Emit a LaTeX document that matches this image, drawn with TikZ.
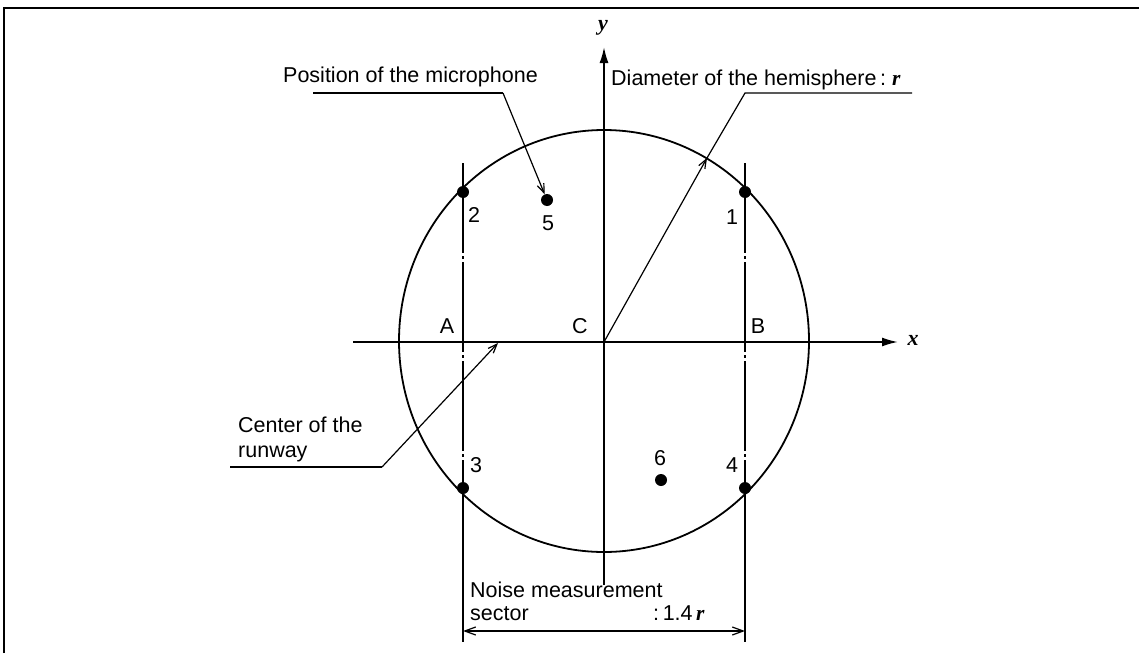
\documentclass[tikz,border=0pt]{standalone}
\usepackage{fontspec}
\setmainfont{Liberation Sans}
\newfontfamily\serifbi{Liberation Serif}
\usetikzlibrary{arrows.meta}
\begin{document}
\begin{tikzpicture}[x=1pt,y=-1pt,
  lbl/.style={inner sep=0pt, font=\fontsize{21.5}{25}\selectfont},
  txt/.style={inner sep=0pt, anchor=base west, font=\fontsize{21.5}{25}\selectfont},
  axlbl/.style={inner sep=0pt, font=\fontsize{22}{25}\serifbi\bfseries\itshape},
  axisline/.style={line width=1.8pt, -{Latex[length=16pt,width=9pt]}},
  leader/.style={line width=1.2pt},
  leadarrow/.style={line width=1.2pt, -{Straight Barb[length=9pt,width=7pt]}},
  dimarrow/.style={line width=1.2pt, {Straight Barb[length=11pt,width=8pt]}-{Straight Barb[length=11pt,width=8pt]}},
  chain/.style={line width=1.5pt, dash pattern=on 90pt off 3pt on 3pt off 3pt},
  extline/.style={line width=1.5pt},
  mic/.style={circle, fill=black, inner sep=0pt, minimum size=12pt},
  frameline/.style={line width=2pt}
]
\useasboundingbox (0,0) rectangle (1139,653);
% frame
\draw[frameline] (4,653) -- (4,8) -- (1139,8);

% coordinates
\coordinate (C) at (604,342);
\coordinate (xs) at (353,342);
\coordinate (xe) at (898,342);
\coordinate (ys) at (604,585);
\coordinate (ye) at (604,47);
\coordinate (At) at (463,163);
\coordinate (Am) at (463,488);
\coordinate (Ab) at (463,642);
\coordinate (Bt) at (745,163);
\coordinate (Bm) at (745,488);
\coordinate (Bb) at (745,642);

% hemisphere outline
\draw[line width=1.8pt] (604,341) ellipse [x radius=205, y radius=211];

% axes
\draw[axisline] (xs) -- (xe);
\draw[axisline] (ys) -- (ye);
\node[axlbl] (xl) at (913,340) {x};
\node[axlbl] (yl) at (603,28) {y};

% sector boundary lines
\draw[chain] (At) -- (Am);
\draw[extline] (Am) -- (Ab);
\draw[chain] (Bt) -- (Bm);
\draw[extline] (Bm) -- (Bb);

% microphone points
\node[mic] (p1) at (745,192) {};
\node[mic] (p2) at (463,192) {};
\node[mic] (p3) at (463,488) {};
\node[mic] (p4) at (745,488) {};
\node[mic] (p5) at (547,200) {};
\node[mic] (p6) at (661,480) {};
\node[lbl] (n1) at (732,217) {1};
\node[lbl] (n2) at (474,215) {2};
\node[lbl] (n3) at (476,465) {3};
\node[lbl] (n4) at (732,465) {4};
\node[lbl] (n5) at (548,223) {5};
\node[lbl] (n6) at (660,458) {6};
\node[lbl] (lA) at (447,326) {A};
\node[lbl] (lB) at (758,326) {B};
\node[lbl] (lC) at (580,326) {C};

% microphone leader
\node[txt] (tmic) at (283,82) {Position of the microphone};
\coordinate (m1) at (313,93);
\coordinate (m2) at (503,93);
\draw[leader] (m1) -- (m2);
\draw[leadarrow] (m2) -- (p5);

% radius leader
\node[txt] (trad) at (611,85) {Diameter of the hemisphere\,:\ {\serifbi\bfseries\itshape r}};
\coordinate (rtip) at (707,158);
\coordinate (rk) at (745,93);
\coordinate (rend) at (912,93);
\draw[leadarrow] (C) -- (rtip);
\draw[leader] (rtip) -- (rk) -- (rend);

% runway leader
\node[txt] (trw1) at (238,432) {Center of the};
\node[txt] (trw2) at (238,457) {runway};
\coordinate (c1) at (230,467);
\coordinate (c2) at (382,467);
\coordinate (c3) at (498,343);
\draw[leader] (c1) -- (c2);
\draw[leadarrow] (c2) -- (c3);

% dimension
\coordinate (d1) at (463,631);
\coordinate (d2) at (745,631);
\draw[dimarrow] (d1) -- (d2);
\node[txt] (ts1) at (470,597) {Noise measurement};
\node[txt] (ts2) at (470,620) {sector};
\node[txt] (ts3) at (653,620) {:\,1.4\,{\serifbi\bfseries\itshape r}};
\end{tikzpicture}
\end{document}
